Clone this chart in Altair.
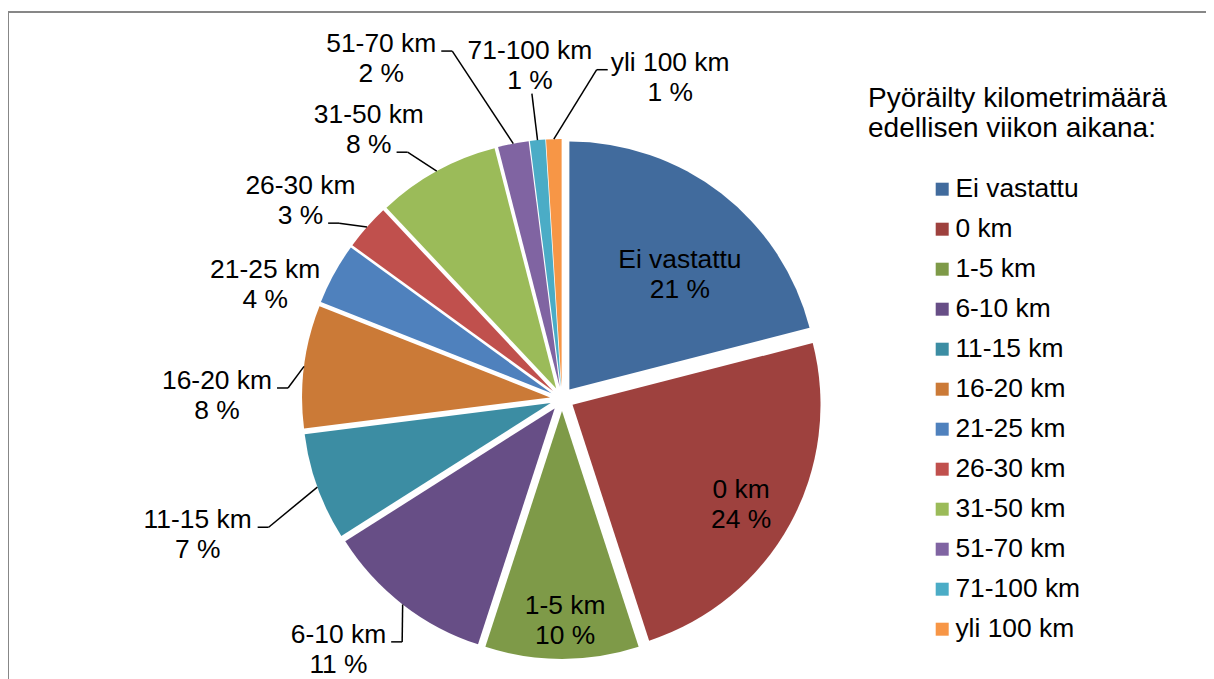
import math
import altair as alt
import pandas as pd

# ---------------- data ----------------
CATEGORIES = ["Ei vastattu", "0 km", "1-5 km", "6-10 km", "11-15 km", "16-20 km",
              "21-25 km", "26-30 km", "31-50 km", "51-70 km", "71-100 km", "yli 100 km"]
PERCENT = [21, 24, 10, 11, 7, 8, 4, 3, 8, 2, 1, 1]
COLORS = ["#416B9D", "#9E413E", "#7E9A48", "#674E86", "#3C8DA3", "#CB7A37",
          "#4F81BD", "#C0504D", "#9BBB59", "#8064A2", "#4BACC6", "#F79646"]
LEGEND_TITLE = ["Pyöräilty kilometrimäärä", "edellisen viikon aikana:"]

# ---------------- layout ----------------
W, H = 1198, 671
CX, CY = 554, 391          # pie centre (plot px)
R = 248                    # pie radius
EXPLODE = 12               # slice explosion
FONT = "Liberation Sans, Arial, sans-serif"
FS = 26.4
TITLE_FS = 28
LINE_H = 30

# label placement: (angle nudge in degrees, distance from centre, leader style)
LABEL_LAYOUT = {
    "Ei vastattu": (5.8, 171, "inside"),
    "0 km": (1.8, 208, "inside"),
    "1-5 km": (-0.8, 222, "inside"),
    "6-10 km": (3.9, 336, "l1"),
    "11-15 km": (-0.7, 389, "l1"),
    "16-20 km": (-6.7, 345, "l1"),
    "21-25 km": (-7.8, 318, "none"),
    "26-30 km": (-4.3, 328, "l2"),
    "31-50 km": (-6.9, 331, "l2"),
    "51-70 km": (-17.2, 385, "l1"),
    "71-100 km": (-0.1, 335, "below"),
    "yli 100 km": (20.4, 339, "r1"),
}

ARIAL = {"-": .333, " ": .278, "k": .5, "m": .833, "y": .5, "l": .222, "i": .222,
         "%": .889, "E": .667, "v": .5, "a": .556, "s": .5, "t": .278, "u": .556}


def text_w(s):
    return sum(ARIAL.get(ch, .556) for ch in s) * FS


total = sum(PERCENT)
slices, texts, leaders = [], [], []
cum = 0
for i, (cat, val) in enumerate(zip(CATEGORIES, PERCENT)):
    mid = (cum + val / 2) / total * 2 * math.pi
    cum += val
    ux, uy = math.sin(mid), -math.cos(mid)
    ax, ay = CX + EXPLODE * ux, CY + EXPLODE * uy
    slices.append({"cat": cat, "value": val, "idx": i, "px": ax, "py": ay})

    nudge, dist, style = LABEL_LAYOUT[cat]
    ang = mid + math.radians(nudge)
    bx, by = CX + dist * math.sin(ang), CY - dist * math.cos(ang)
    l1, l2 = cat, f"{val} %"
    y1, y2 = by - LINE_H / 2, by + LINE_H / 2
    texts.append({"x": bx, "y": y1, "t": l1})
    texts.append({"x": bx, "y": y2, "t": l2})

    ex, ey = ax + R * ux, ay + R * uy   # point on the slice edge
    if style in ("l1", "l2"):
        w = text_w(l1 if style == "l1" else l2)
        ly = (y1 if style == "l1" else y2) + 7
        s0 = bx + w / 2 + 5
        leaders.append({"x": s0, "y": ly, "x2": s0 + 11, "y2": ly})
        leaders.append({"x": s0 + 11, "y": ly, "x2": ex, "y2": ey})
    elif style == "r1":
        w = text_w(l1)
        ly = y1 + 7
        s1 = bx - w / 2 - 3
        leaders.append({"x": s1 - 11, "y": ly, "x2": s1, "y2": ly})
        leaders.append({"x": s1 - 11, "y": ly, "x2": ex, "y2": ey})
    elif style == "below":
        leaders.append({"x": bx + 2, "y": y2 + 13, "x2": ex, "y2": ey})

slice_df = pd.DataFrame(slices)
text_df = pd.DataFrame(texts)
lead_df = pd.DataFrame(leaders)
title_df = pd.DataFrame({"t": LEGEND_TITLE, "x": [860, 860], "y": [99, 129]})

frame_top = alt.Chart(pd.DataFrame({"a": [0]})).mark_rule(
    color="#878787", strokeWidth=2).encode(
    x=alt.value(0), x2=alt.value(W), y=alt.value(4))
frame_left = alt.Chart(pd.DataFrame({"a": [0]})).mark_rule(
    color="#878787", strokeWidth=2).encode(
    x=alt.value(0), y=alt.value(4), y2=alt.value(H))

pie = alt.Chart(slice_df).mark_arc(radius=R, stroke=None).encode(
    theta=alt.Theta("value:Q", stack=True),
    order=alt.Order("idx:Q"),
    x=alt.X("px:Q", scale=None),
    y=alt.Y("py:Q", scale=None),
    color=alt.Color("cat:N", sort=CATEGORIES,
                    scale=alt.Scale(domain=CATEGORIES, range=COLORS),
                    legend=alt.Legend(title=None, orient="none", legendX=918, legendY=168,
                                      symbolType="square", symbolSize=169,
                                      symbolStrokeWidth=0, symbolOpacity=1,
                                      symbolOffset=3,
                                      labelFont=FONT, labelFontSize=FS, labelColor="#000",
                                      labelOffset=0, rowPadding=13, padding=0,
                                      labelLimit=400)),
)

lines = alt.Chart(lead_df).mark_rule(color="#000", strokeWidth=1.5).encode(
    x=alt.X("x:Q", scale=None), y=alt.Y("y:Q", scale=None),
    x2="x2:Q", y2="y2:Q")

labels = alt.Chart(text_df).mark_text(
    font=FONT, fontSize=FS, color="#000", align="center", baseline="middle").encode(
    x=alt.X("x:Q", scale=None), y=alt.Y("y:Q", scale=None), text="t:N")

title = alt.Chart(title_df).mark_text(
    font=FONT, fontSize=TITLE_FS, color="#000", align="left", baseline="alphabetic").encode(
    x=alt.X("x:Q", scale=None), y=alt.Y("y:Q", scale=None), text="t:N")

chart = alt.layer(frame_top, frame_left, pie, lines, labels, title).properties(
    width=W, height=H, padding=0, autosize=alt.AutoSizeParams(type="none")
).configure_view(stroke=None)

chart.save("out.html", embed_options={"renderer": "svg", "actions": False})
